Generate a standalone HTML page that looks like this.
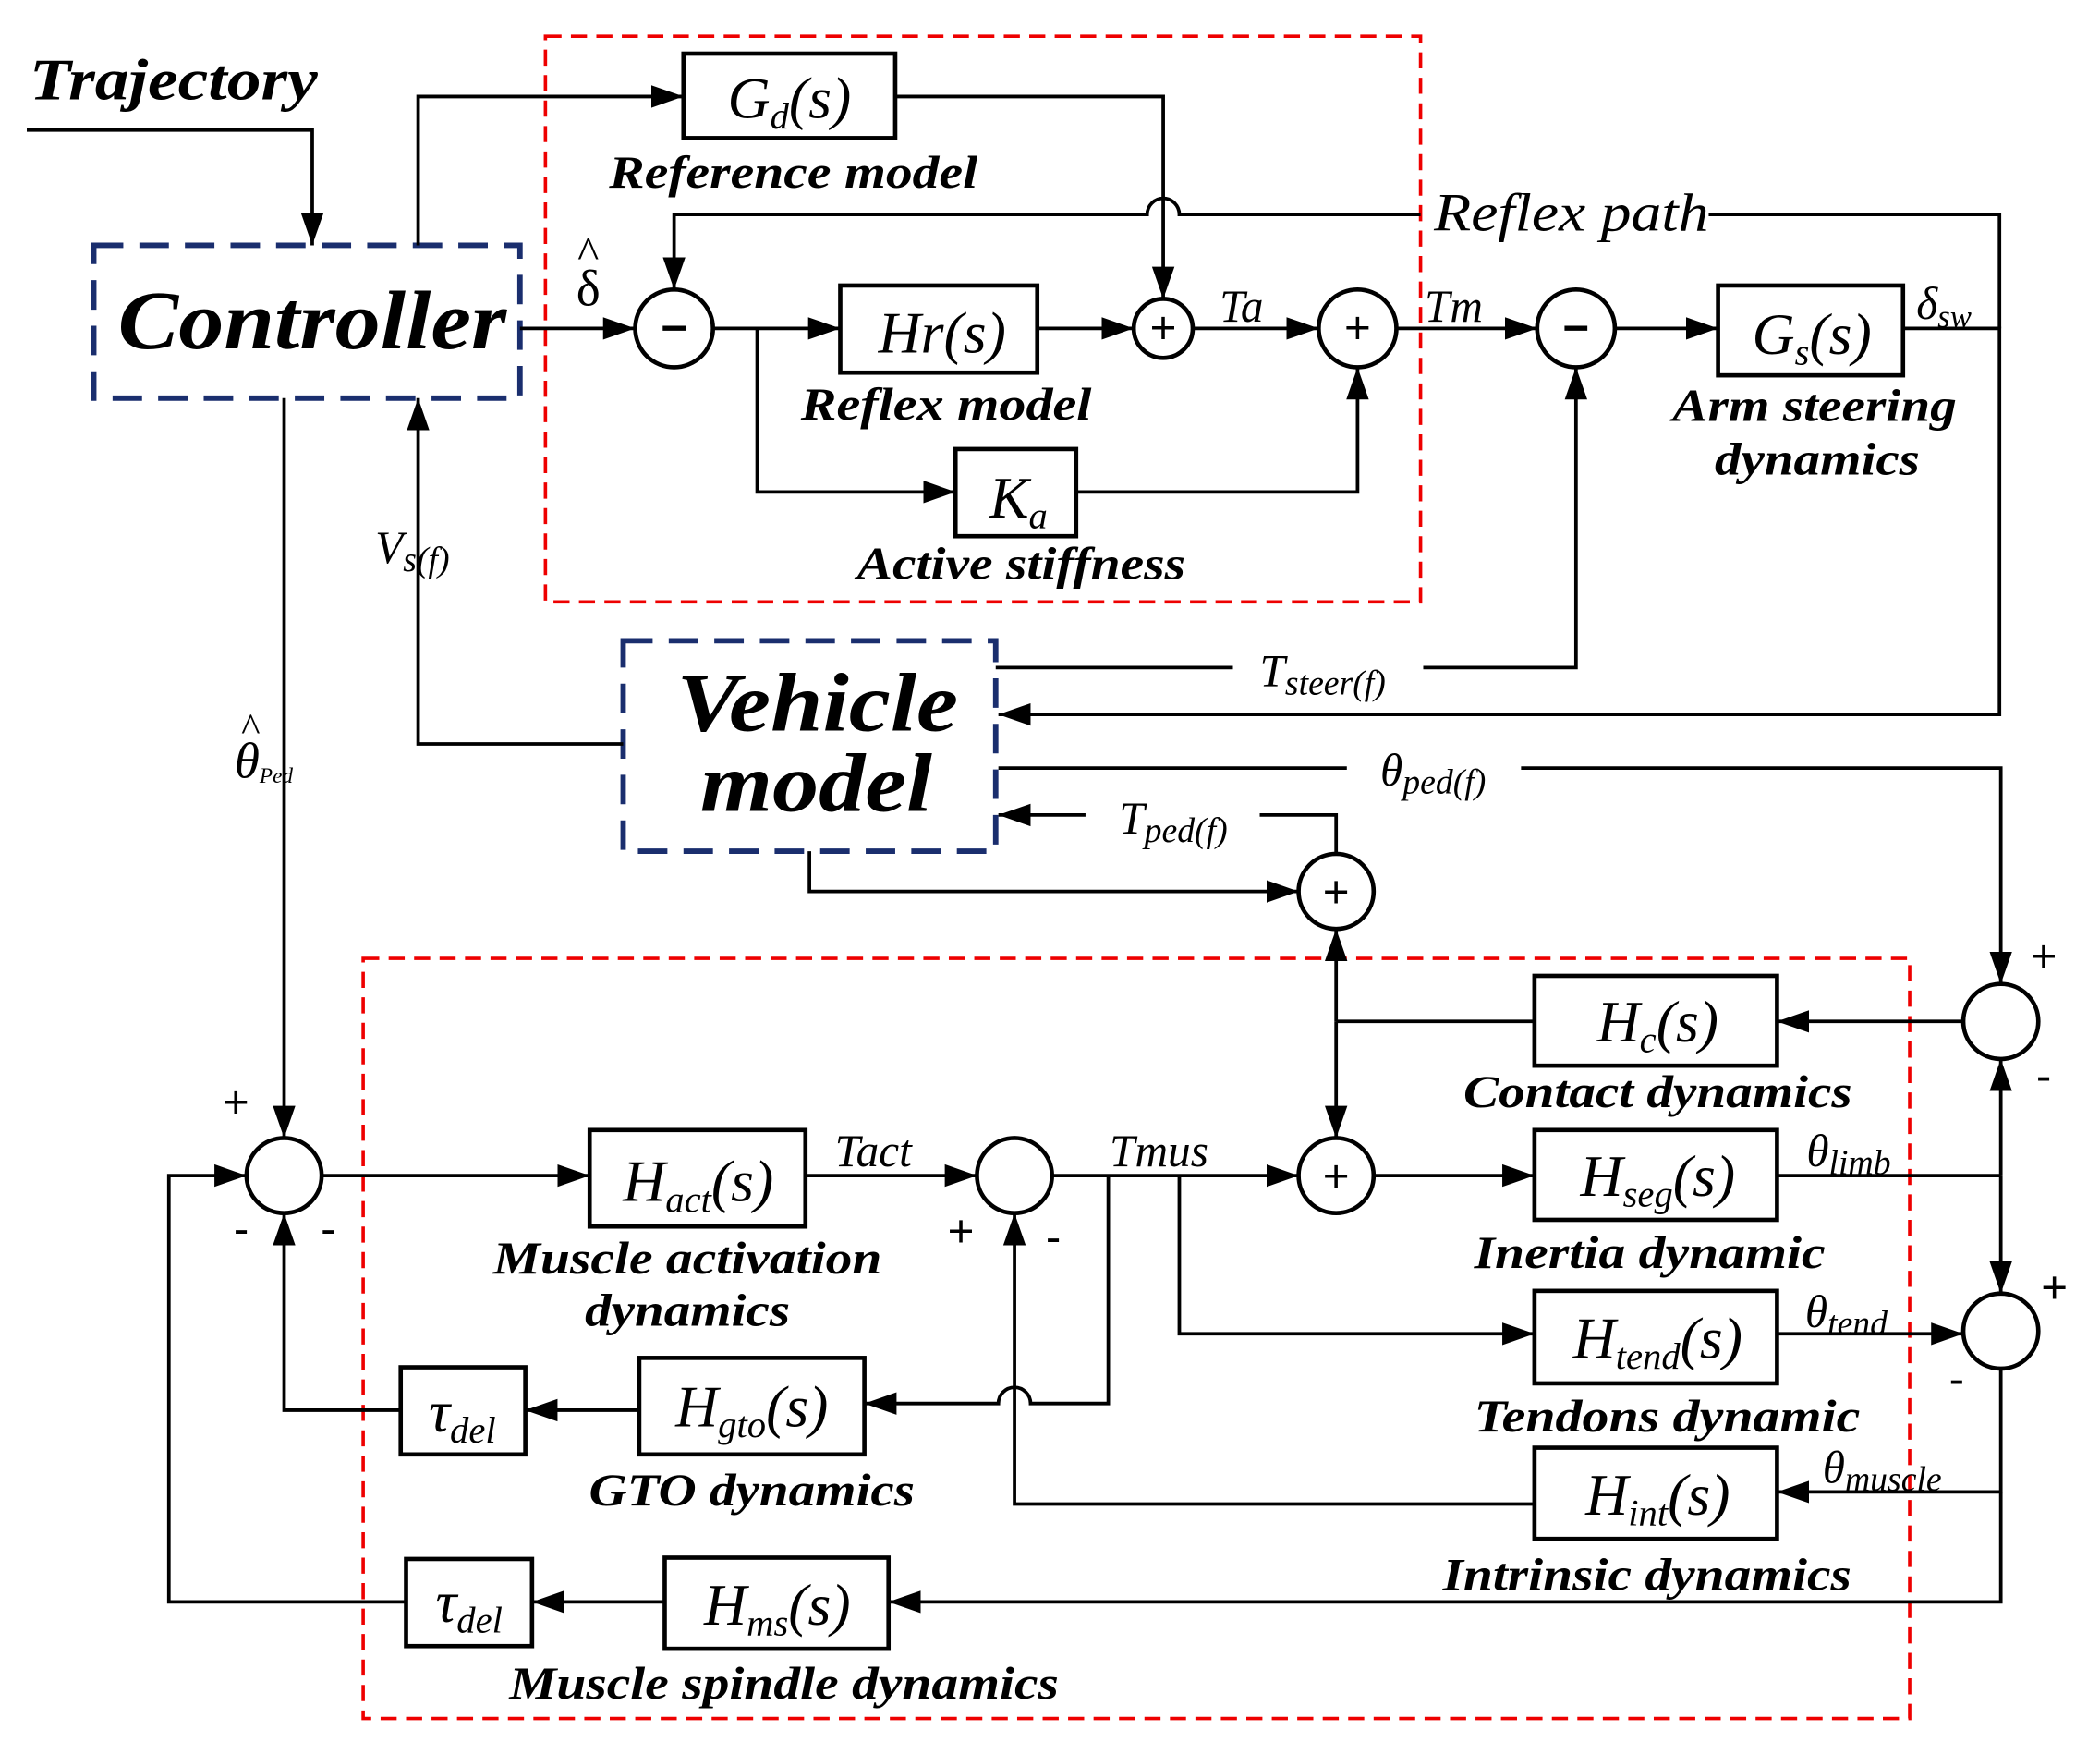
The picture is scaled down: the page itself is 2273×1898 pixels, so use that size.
<!DOCTYPE html>
<html><head><meta charset="utf-8"><style>
html,body{margin:0;padding:0;background:#fff}
svg{display:block}
.l{font-family:"Liberation Serif",serif;font-weight:bold;font-style:italic;font-size:34px;text-anchor:middle}
.b{font-family:"Liberation Serif",serif;font-style:italic;font-size:44px;text-anchor:middle}
.s{font-family:"Liberation Serif",serif;font-style:italic;font-size:34px}
.p{font-family:"Liberation Sans",sans-serif;font-size:34px;text-anchor:middle}
</style></head><body>
<svg width="2273" height="1898" viewBox="0 0 1567 1308.5" preserveAspectRatio="none" xmlns="http://www.w3.org/2000/svg">
<defs>
<marker id="A" viewBox="0 0 10 10" refX="10" refY="5" markerWidth="24" markerHeight="24" markerUnits="userSpaceOnUse" orient="auto"><path d="M0,1.5L10,5L0,8.5z"/></marker></defs>
<g fill="none" stroke="#e00" stroke-width="2.5" stroke-dasharray="12,7">
<rect x="407" y="27" width="653" height="422"/>
<rect x="271" y="715" width="1154" height="567"/>
</g>
<g fill="none" stroke="#1a2e6e" stroke-width="4" stroke-dasharray="22,12">
<rect x="70" y="183" width="318" height="114"/>
<rect x="465" y="478" width="278" height="157"/>
</g>
<g fill="none" stroke="#000" stroke-width="3.2">
<rect x="510" y="40" width="158" height="63"/>
<rect x="627" y="213" width="147" height="65"/>
<rect x="713" y="335" width="90" height="65"/>
<rect x="1282" y="213" width="138" height="67"/>
<rect x="1145" y="728" width="181" height="67"/>
<rect x="440" y="843" width="161" height="72"/>
<rect x="1145" y="843" width="181" height="67"/>
<rect x="1145" y="963" width="181" height="69"/>
<rect x="1145" y="1080" width="181" height="68"/>
<rect x="477" y="1013" width="168" height="72"/>
<rect x="299" y="1020" width="93" height="65"/>
<rect x="496" y="1162" width="167" height="68"/>
<rect x="303" y="1163" width="94" height="65"/>
<circle cx="503" cy="245" r="29"/><circle cx="868" cy="245" r="22"/>
<circle cx="1013" cy="245" r="29"/><circle cx="1176" cy="245" r="29"/>
<circle cx="997" cy="665" r="28"/><circle cx="997" cy="877" r="28"/>
<circle cx="212" cy="877" r="28"/><circle cx="757" cy="877" r="28"/>
<circle cx="1493" cy="762" r="28"/><circle cx="1493" cy="993" r="28"/>
</g>
<g fill="none" stroke="#000" stroke-width="2.6" marker-end="url(#A)">
<path d="M20,97H233V183"/>
<path d="M312,183V72H510"/>
<path d="M668,72H868V223"/>
<path d="M1492,245V160H1275M1060,160H880A12,12 0 0 0 856,160H503V216"/>
<path d="M388,245H474"/>
<path d="M532,245H627"/>
<path d="M774,245H846"/>
<path d="M890,245H984"/>
<path d="M1042,245H1147"/>
<path d="M1205,245H1282"/>
<path d="M565,245V367H713"/>
<path d="M803,367H1013V274"/>
<path d="M743,498H920M1062,498H1176V274"/>
<path d="M1420,245H1492V533H745"/>
<path d="M465,555H312V297"/>
<path d="M212,297V849"/>
<path d="M745,573H1005M1135,573H1493V734"/>
<path d="M997,637V608H940M810,608H745"/>
<path d="M604,635V665H969"/>
<path d="M997,762V693"/>
<path d="M997,762V849"/>
<path d="M1465,762H1326"/>
<path d="M240,877H440"/>
<path d="M601,877H729"/>
<path d="M785,877H969"/>
<path d="M1025,877H1145"/>
<path d="M880,877V995H1145"/>
<path d="M1326,995H1465"/>
<path d="M1493,877V790"/>
<path d="M1493,877V965"/>
<path d="M1493,1021V1113H1326"/>
<path d="M1493,1113V1195H663"/>
<path d="M1145,1122H757V905"/>
<path d="M827,877V1047H769A12,12 0 0 0 745,1047H645"/>
<path d="M477,1052H392"/>
<path d="M299,1052H212V905"/>
<path d="M496,1195H397"/>
<path d="M303,1195H126V877H184"/>
</g>
<path d="M1326,877H1493M1145,762H997" stroke="#000" stroke-width="2.6" fill="none"/>
<g>
<text x="22" y="74" class="l" style="text-anchor:start;font-size:44px" textLength="215" lengthAdjust="spacingAndGlyphs">Trajectory</text>
<text x="233" y="260" class="l" style="font-size:62px" textLength="290" lengthAdjust="spacingAndGlyphs">Controller</text>
<text x="610" y="545" class="l" style="font-size:62px" textLength="210" lengthAdjust="spacingAndGlyphs">Vehicle</text>
<text x="609" y="605" class="l" style="font-size:62px" textLength="173" lengthAdjust="spacingAndGlyphs">model</text>
<text x="592" y="140" class="l" textLength="275" lengthAdjust="spacingAndGlyphs">Reference model</text>
<text x="706" y="313" class="l" textLength="217" lengthAdjust="spacingAndGlyphs">Reflex model</text>
<text x="762" y="432" class="l" textLength="245" lengthAdjust="spacingAndGlyphs">Active stiffness</text>
<text x="1354" y="314" class="l" textLength="212" lengthAdjust="spacingAndGlyphs">Arm steering</text>
<text x="1356" y="354" class="l" textLength="153" lengthAdjust="spacingAndGlyphs">dynamics</text>
<text x="1237" y="826" class="l" textLength="290" lengthAdjust="spacingAndGlyphs">Contact dynamics</text>
<text x="513" y="950" class="l" textLength="290" lengthAdjust="spacingAndGlyphs">Muscle activation</text>
<text x="513" y="989" class="l" textLength="153" lengthAdjust="spacingAndGlyphs">dynamics</text>
<text x="1231" y="946" class="l" textLength="262" lengthAdjust="spacingAndGlyphs">Inertia dynamic</text>
<text x="1244" y="1068" class="l" textLength="288" lengthAdjust="spacingAndGlyphs">Tendons dynamic</text>
<text x="1229" y="1186" class="l" textLength="305" lengthAdjust="spacingAndGlyphs">Intrinsic dynamics</text>
<text x="561" y="1123" class="l" textLength="243" lengthAdjust="spacingAndGlyphs">GTO dynamics</text>
<text x="585" y="1267" class="l" textLength="410" lengthAdjust="spacingAndGlyphs">Muscle spindle dynamics</text>
<text x="589" y="88" class="b">G<tspan font-size="28" dy="8">d</tspan><tspan dy="-8">(s)</tspan></text>
<text x="703" y="263" class="b">Hr(s)</text>
<text x="760" y="386" class="b">K<tspan font-size="28" dy="8">a</tspan></text>
<text x="1352" y="264" class="b">G<tspan font-size="28" dy="8">s</tspan><tspan dy="-8">(s)</tspan></text>
<text x="1237" y="777" class="b">H<tspan font-size="28" dy="8">c</tspan><tspan dy="-8">(s)</tspan></text>
<text x="521" y="896" class="b">H<tspan font-size="28" dy="8">act</tspan><tspan dy="-8">(s)</tspan></text>
<text x="1237" y="892" class="b">H<tspan font-size="28" dy="8">seg</tspan><tspan dy="-8">(s)</tspan></text>
<text x="1237" y="1013" class="b">H<tspan font-size="28" dy="8">tend</tspan><tspan dy="-8">(s)</tspan></text>
<text x="1237" y="1130" class="b">H<tspan font-size="28" dy="8">int</tspan><tspan dy="-8">(s)</tspan></text>
<text x="561" y="1064" class="b">H<tspan font-size="28" dy="8">gto</tspan><tspan dy="-8">(s)</tspan></text>
<text x="345" y="1068" class="b">τ<tspan font-size="28" dy="8">del</tspan></text>
<text x="580" y="1212" class="b">H<tspan font-size="28" dy="8">ms</tspan><tspan dy="-8">(s)</tspan></text>
<text x="350" y="1210" class="b">τ<tspan font-size="28" dy="8">del</tspan></text>
<text x="430" y="228" class="s" style="font-style:normal;font-size:38px">δ</text>
<text x="431" y="200" class="s" style="font-style:normal;font-size:34px">^</text>
<text x="910" y="240" class="s">Ta</text>
<text x="1063" y="240" class="s">Tm</text>
<text x="1070" y="172" class="s" style="font-size:40px" textLength="205" lengthAdjust="spacingAndGlyphs">Reflex path</text>
<text x="1430" y="238" class="s">δ<tspan font-size="24" dy="6">sw</tspan></text>
<text x="280" y="420" class="s">V<tspan font-size="26" dy="6">s(f)</tspan></text>
<text x="940" y="512" class="s">T<tspan font-size="26" dy="6">steer(f)</tspan></text>
<text x="1030" y="586" class="s">θ<tspan font-size="26" dy="6">ped(f)</tspan></text>
<text x="835" y="622" class="s">T<tspan font-size="26" dy="6">ped(f)</tspan></text>
<text x="175" y="580" class="s" style="font-size:38px">θ<tspan font-size="16" dy="4">Ped</tspan></text>
<text x="180" y="553" class="s" style="font-style:normal;font-size:30px">^</text>
<text x="623" y="870" class="s">Tact</text>
<text x="828" y="870" class="s">Tmus</text>
<text x="1348" y="870" class="s">θ<tspan font-size="26" dy="6">limb</tspan></text>
<text x="1347" y="990" class="s">θ<tspan font-size="26" dy="6">tend</tspan></text>
<text x="1360" y="1106" class="s">θ<tspan font-size="26" dy="6">muscle</tspan></text>
<text x="503" y="256" class="p" style="font-weight:bold">−</text>
<text x="1176" y="256" class="p" style="font-weight:bold">−</text>
<text x="868" y="256" class="p">+</text><text x="1013" y="256" class="p">+</text>
<text x="997" y="677" class="p">+</text><text x="997" y="889" class="p">+</text>
<text x="176" y="834" class="p">+</text><text x="180" y="928" class="p">-</text><text x="245" y="928" class="p">-</text>
<text x="717" y="930" class="p">+</text><text x="786" y="934" class="p">-</text>
<text x="1525" y="725" class="p">+</text><text x="1525" y="814" class="p">-</text>
<text x="1533" y="972" class="p">+</text><text x="1460" y="1040" class="p">-</text>
</g>
</svg>
</body></html>
